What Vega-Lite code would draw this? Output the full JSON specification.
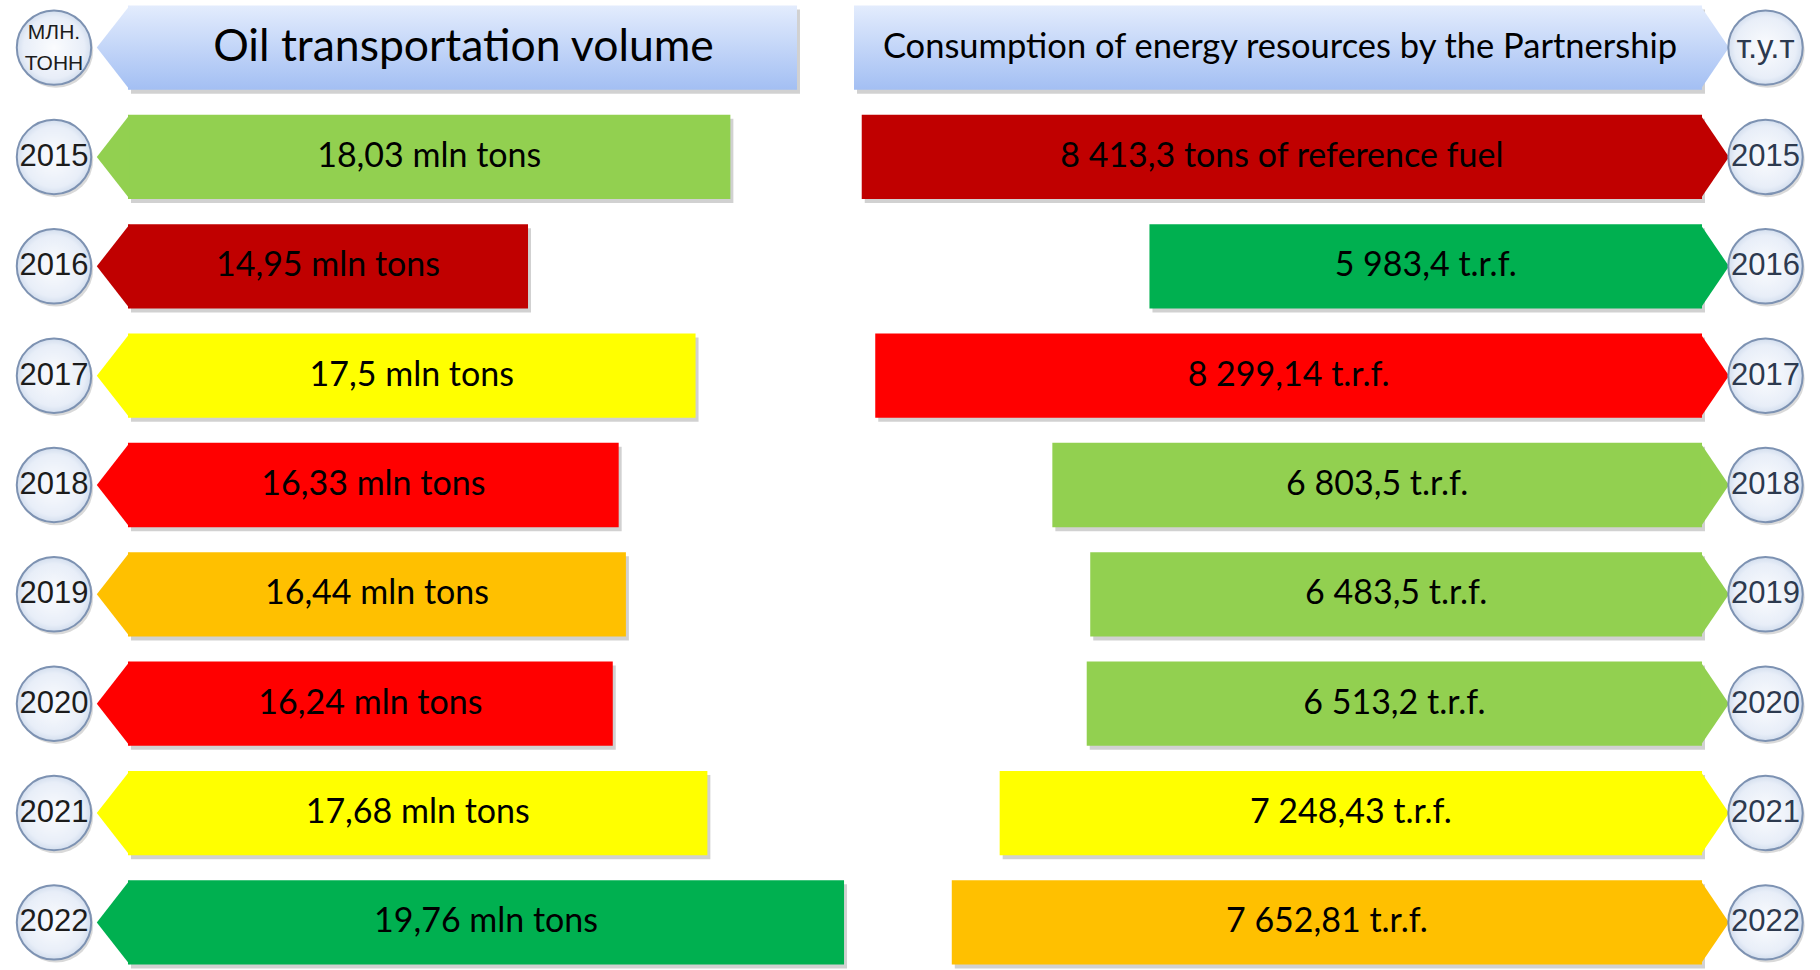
{
  "$schema": "https://vega.github.io/schema/vega-lite/v6.json",
  "width": 1820,
  "height": 970,
  "autosize": "none",
  "padding": 0,
  "background": "white",
  "config": {"view": {"stroke": null}},
  "datasets": {
    "years": [
      {"row": "2015", "oil": 18.03, "oil_label": "18,03 mln tons", "oil_grade": "good", "energy": 8413.3, "energy_label": "8 413,3 tons of reference fuel", "energy_grade": "worst"},
      {"row": "2016", "oil": 14.95, "oil_label": "14,95 mln tons", "oil_grade": "worst", "energy": 5983.4, "energy_label": "5 983,4 t.r.f.", "energy_grade": "excellent"},
      {"row": "2017", "oil": 17.5, "oil_label": "17,5 mln tons", "oil_grade": "average", "energy": 8299.14, "energy_label": "8 299,14 t.r.f.", "energy_grade": "poor"},
      {"row": "2018", "oil": 16.33, "oil_label": "16,33 mln tons", "oil_grade": "poor", "energy": 6803.5, "energy_label": "6 803,5 t.r.f.", "energy_grade": "good"},
      {"row": "2019", "oil": 16.44, "oil_label": "16,44 mln tons", "oil_grade": "fair", "energy": 6483.5, "energy_label": "6 483,5 t.r.f.", "energy_grade": "good"},
      {"row": "2020", "oil": 16.24, "oil_label": "16,24 mln tons", "oil_grade": "poor", "energy": 6513.2, "energy_label": "6 513,2 t.r.f.", "energy_grade": "good"},
      {"row": "2021", "oil": 17.68, "oil_label": "17,68 mln tons", "oil_grade": "average", "energy": 7248.43, "energy_label": "7 248,43 t.r.f.", "energy_grade": "average"},
      {"row": "2022", "oil": 19.76, "oil_label": "19,76 mln tons", "oil_grade": "excellent", "energy": 7652.81, "energy_label": "7 652,81 t.r.f.", "energy_grade": "fair"}
    ],
    "heads": [
      {"row": "unit", "oil_title": "Oil transportation volume", "oil_unit": "МЛН.\nТОНН", "energy_title": "Consumption of energy resources by the Partnership", "energy_unit": "т.у.т"}
    ]
  },
  "resolve": {"scale": {"x": "independent"}},
  "layer": [
    {
      "data": {"name": "heads"},
      "mark": {"type": "bar", "color": "#000000", "opacity": 0.18, "xOffset": 3, "x2Offset": 3, "yOffset": 4, "y2Offset": 4},
      "encoding": {
        "y": {"field": "row", "type": "nominal", "axis": null, "scale": {"type": "band", "domain": ["unit", "2015", "2016", "2017", "2018", "2019", "2020", "2021", "2022"], "paddingInner": 0.229, "paddingOuter": 0.05}},
        "x": {"datum": 8.8615, "type": "quantitative", "axis": null, "scale": {"domain": [6.91324, 34.6149], "nice": false, "zero": false}},
        "x2": {"datum": 19.0441}
      }
    },
    {
      "data": {"name": "years"},
      "mark": {"type": "bar", "color": "#000000", "opacity": 0.18, "xOffset": 3, "x2Offset": 3, "yOffset": 4, "y2Offset": 4},
      "encoding": {
        "y": {"field": "row", "type": "nominal", "axis": null, "scale": {"type": "band", "domain": ["unit", "2015", "2016", "2017", "2018", "2019", "2020", "2021", "2022"], "paddingInner": 0.229, "paddingOuter": 0.05}},
        "x": {"field": "oil", "type": "quantitative", "axis": null, "scale": {"domain": [6.91324, 34.6149], "nice": false, "zero": false}},
        "x2": {"datum": 8.8615}
      }
    },
    {
      "data": {"name": "heads"},
      "mark": {"type": "bar", "color": "#000000", "opacity": 0.18, "xOffset": 3, "x2Offset": 3, "yOffset": 4, "y2Offset": 4},
      "encoding": {
        "y": {"field": "row", "type": "nominal", "axis": null, "scale": {"type": "band", "domain": ["unit", "2015", "2016", "2017", "2018", "2019", "2020", "2021", "2022"], "paddingInner": 0.229, "paddingOuter": 0.05}},
        "x": {"datum": 8478.6, "type": "quantitative", "axis": null, "scale": {"domain": [320.5, 15690.8], "reverse": true, "nice": false, "zero": false}},
        "x2": {"datum": 1317.0}
      }
    },
    {
      "data": {"name": "years"},
      "mark": {"type": "bar", "color": "#000000", "opacity": 0.18, "xOffset": 3, "x2Offset": 3, "yOffset": 4, "y2Offset": 4},
      "encoding": {
        "y": {"field": "row", "type": "nominal", "axis": null, "scale": {"type": "band", "domain": ["unit", "2015", "2016", "2017", "2018", "2019", "2020", "2021", "2022"], "paddingInner": 0.229, "paddingOuter": 0.05}},
        "x": {"field": "energy", "type": "quantitative", "axis": null, "scale": {"domain": [320.5, 15690.8], "reverse": true, "nice": false, "zero": false}},
        "x2": {"datum": 1317.0}
      }
    },
    {
      "data": {"name": "heads"},
      "mark": {"type": "bar", "color": {"gradient": "linear", "x1": 0, "y1": 0, "x2": 0, "y2": 1, "stops": [{"offset": 0, "color": "#e3ecfd"}, {"offset": 1, "color": "#a3bff3"}]}},
      "encoding": {
        "y": {"field": "row", "type": "nominal", "axis": null, "scale": {"type": "band", "domain": ["unit", "2015", "2016", "2017", "2018", "2019", "2020", "2021", "2022"], "paddingInner": 0.229, "paddingOuter": 0.05}},
        "x": {"datum": 8.8615, "type": "quantitative", "axis": null, "scale": {"domain": [6.91324, 34.6149], "nice": false, "zero": false}},
        "x2": {"datum": 19.0441}
      }
    },
    {
      "data": {"name": "heads"},
      "mark": {"type": "point", "shape": "M 0.04 -1 L 0.04 1 L -0.74 0 Z", "size": 7108, "filled": true, "opacity": 1, "fill": {"gradient": "linear", "x1": 0, "y1": 0, "x2": 0, "y2": 1, "stops": [{"offset": 0, "color": "#e3ecfd"}, {"offset": 1, "color": "#a3bff3"}]}},
      "encoding": {
        "y": {"field": "row", "type": "nominal", "axis": null, "scale": {"type": "band", "domain": ["unit", "2015", "2016", "2017", "2018", "2019", "2020", "2021", "2022"], "paddingInner": 0.229, "paddingOuter": 0.05}},
        "x": {"datum": 8.8615, "type": "quantitative", "axis": null, "scale": {"domain": [6.91324, 34.6149], "nice": false, "zero": false}}
      }
    },
    {
      "data": {"name": "heads"},
      "mark": {"type": "bar", "color": {"gradient": "linear", "x1": 0, "y1": 0, "x2": 0, "y2": 1, "stops": [{"offset": 0, "color": "#e3ecfd"}, {"offset": 1, "color": "#a3bff3"}]}},
      "encoding": {
        "y": {"field": "row", "type": "nominal", "axis": null, "scale": {"type": "band", "domain": ["unit", "2015", "2016", "2017", "2018", "2019", "2020", "2021", "2022"], "paddingInner": 0.229, "paddingOuter": 0.05}},
        "x": {"datum": 8478.6, "type": "quantitative", "axis": null, "scale": {"domain": [320.5, 15690.8], "reverse": true, "nice": false, "zero": false}},
        "x2": {"datum": 1317.0}
      }
    },
    {
      "data": {"name": "heads"},
      "mark": {"type": "point", "shape": "M -0.04 -1 L -0.04 1 L 0.64 0 Z", "size": 7108, "filled": true, "opacity": 1, "fill": {"gradient": "linear", "x1": 0, "y1": 0, "x2": 0, "y2": 1, "stops": [{"offset": 0, "color": "#e3ecfd"}, {"offset": 1, "color": "#a3bff3"}]}},
      "encoding": {
        "y": {"field": "row", "type": "nominal", "axis": null, "scale": {"type": "band", "domain": ["unit", "2015", "2016", "2017", "2018", "2019", "2020", "2021", "2022"], "paddingInner": 0.229, "paddingOuter": 0.05}},
        "x": {"datum": 1317.0, "type": "quantitative", "axis": null, "scale": {"domain": [320.5, 15690.8], "reverse": true, "nice": false, "zero": false}}
      }
    },
    {
      "data": {"name": "years"},
      "mark": {"type": "bar"},
      "encoding": {
        "y": {"field": "row", "type": "nominal", "axis": null, "scale": {"type": "band", "domain": ["unit", "2015", "2016", "2017", "2018", "2019", "2020", "2021", "2022"], "paddingInner": 0.229, "paddingOuter": 0.05}},
        "x": {"field": "oil", "type": "quantitative", "axis": null, "scale": {"domain": [6.91324, 34.6149], "nice": false, "zero": false}},
        "x2": {"datum": 8.8615},
        "color": {"field": "oil_grade", "type": "nominal", "legend": null, "scale": {"domain": ["excellent", "good", "average", "fair", "poor", "worst"], "range": ["#00b050", "#92d050", "#ffff00", "#ffc000", "#ff0000", "#c00000"]}}
      }
    },
    {
      "data": {"name": "years"},
      "mark": {"type": "point", "shape": "M 0.04 -1 L 0.04 1 L -0.74 0 Z", "size": 7108, "filled": true, "opacity": 1},
      "encoding": {
        "y": {"field": "row", "type": "nominal", "axis": null, "scale": {"type": "band", "domain": ["unit", "2015", "2016", "2017", "2018", "2019", "2020", "2021", "2022"], "paddingInner": 0.229, "paddingOuter": 0.05}},
        "x": {"datum": 8.8615, "type": "quantitative", "axis": null, "scale": {"domain": [6.91324, 34.6149], "nice": false, "zero": false}},
        "color": {"field": "oil_grade", "type": "nominal", "legend": null, "scale": {"domain": ["excellent", "good", "average", "fair", "poor", "worst"], "range": ["#00b050", "#92d050", "#ffff00", "#ffc000", "#ff0000", "#c00000"]}}
      }
    },
    {
      "data": {"name": "years"},
      "mark": {"type": "bar"},
      "encoding": {
        "y": {"field": "row", "type": "nominal", "axis": null, "scale": {"type": "band", "domain": ["unit", "2015", "2016", "2017", "2018", "2019", "2020", "2021", "2022"], "paddingInner": 0.229, "paddingOuter": 0.05}},
        "x": {"field": "energy", "type": "quantitative", "axis": null, "scale": {"domain": [320.5, 15690.8], "reverse": true, "nice": false, "zero": false}},
        "x2": {"datum": 1317.0},
        "color": {"field": "energy_grade", "type": "nominal", "legend": null, "scale": {"domain": ["excellent", "good", "average", "fair", "poor", "worst"], "range": ["#00b050", "#92d050", "#ffff00", "#ffc000", "#ff0000", "#c00000"]}}
      }
    },
    {
      "data": {"name": "years"},
      "mark": {"type": "point", "shape": "M -0.04 -1 L -0.04 1 L 0.64 0 Z", "size": 7108, "filled": true, "opacity": 1},
      "encoding": {
        "y": {"field": "row", "type": "nominal", "axis": null, "scale": {"type": "band", "domain": ["unit", "2015", "2016", "2017", "2018", "2019", "2020", "2021", "2022"], "paddingInner": 0.229, "paddingOuter": 0.05}},
        "x": {"datum": 1317.0, "type": "quantitative", "axis": null, "scale": {"domain": [320.5, 15690.8], "reverse": true, "nice": false, "zero": false}},
        "color": {"field": "energy_grade", "type": "nominal", "legend": null, "scale": {"domain": ["excellent", "good", "average", "fair", "poor", "worst"], "range": ["#00b050", "#92d050", "#ffff00", "#ffc000", "#ff0000", "#c00000"]}}
      }
    },
    {
      "data": {"name": "heads"},
      "mark": {"type": "text", "font": "Lato", "fontSize": 44.5, "color": "#000000", "align": "center", "baseline": "middle"},
      "encoding": {
        "y": {"field": "row", "type": "nominal", "axis": null, "scale": {"type": "band", "domain": ["unit", "2015", "2016", "2017", "2018", "2019", "2020", "2021", "2022"], "paddingInner": 0.229, "paddingOuter": 0.05}},
        "x": {"datum": 13.968, "type": "quantitative", "axis": null, "scale": {"domain": [6.91324, 34.6149], "nice": false, "zero": false}},
        "text": {"field": "oil_title"}
      }
    },
    {
      "data": {"name": "heads"},
      "mark": {"type": "text", "font": "Lato", "fontSize": 34.5, "color": "#000000", "align": "center", "baseline": "middle"},
      "encoding": {
        "y": {"field": "row", "type": "nominal", "axis": null, "scale": {"type": "band", "domain": ["unit", "2015", "2016", "2017", "2018", "2019", "2020", "2021", "2022"], "paddingInner": 0.229, "paddingOuter": 0.05}},
        "x": {"datum": 4880.9, "type": "quantitative", "axis": null, "scale": {"domain": [320.5, 15690.8], "reverse": true, "nice": false, "zero": false}},
        "text": {"field": "energy_title"}
      }
    },
    {
      "data": {"name": "years"},
      "mark": {"type": "text", "font": "Lato", "fontSize": 34, "color": "#000000", "align": "center", "baseline": "middle"},
      "encoding": {
        "y": {"field": "row", "type": "nominal", "axis": null, "scale": {"type": "band", "domain": ["unit", "2015", "2016", "2017", "2018", "2019", "2020", "2021", "2022"], "paddingInner": 0.229, "paddingOuter": 0.05}},
        "x": {"field": "oil", "type": "quantitative", "axis": null, "scale": {"domain": [4.9650, 60.368], "nice": false, "zero": false}},
        "text": {"field": "oil_label"}
      }
    },
    {
      "data": {"name": "years"},
      "mark": {"type": "text", "font": "Lato", "fontSize": 34, "color": "#000000", "align": "center", "baseline": "middle"},
      "encoding": {
        "y": {"field": "row", "type": "nominal", "axis": null, "scale": {"type": "band", "domain": ["unit", "2015", "2016", "2017", "2018", "2019", "2020", "2021", "2022"], "paddingInner": 0.229, "paddingOuter": 0.05}},
        "x": {"field": "energy", "type": "quantitative", "axis": null, "scale": {"domain": [-676.0, 30064.6], "reverse": true, "nice": false, "zero": false}},
        "text": {"field": "energy_label"}
      }
    },
    {
      "data": {"name": "years"},
      "mark": {"type": "circle", "size": 5542, "color": "#000000", "opacity": 0.15, "xOffset": 2, "yOffset": 3},
      "encoding": {
        "y": {"field": "row", "type": "nominal", "axis": null, "scale": {"type": "band", "domain": ["unit", "2015", "2016", "2017", "2018", "2019", "2020", "2021", "2022"], "paddingInner": 0.229, "paddingOuter": 0.05}},
        "x": {"datum": 7.7352, "type": "quantitative", "axis": null, "scale": {"domain": [6.91324, 34.6149], "nice": false, "zero": false}}
      }
    },
    {
      "data": {"name": "heads"},
      "mark": {"type": "circle", "size": 5542, "color": "#000000", "opacity": 0.15, "xOffset": 2, "yOffset": 3},
      "encoding": {
        "y": {"field": "row", "type": "nominal", "axis": null, "scale": {"type": "band", "domain": ["unit", "2015", "2016", "2017", "2018", "2019", "2020", "2021", "2022"], "paddingInner": 0.229, "paddingOuter": 0.05}},
        "x": {"datum": 7.7352, "type": "quantitative", "axis": null, "scale": {"domain": [6.91324, 34.6149], "nice": false, "zero": false}}
      }
    },
    {
      "data": {"name": "years"},
      "mark": {"type": "circle", "size": 5542, "color": "#000000", "opacity": 0.15, "xOffset": 2, "yOffset": 3},
      "encoding": {
        "y": {"field": "row", "type": "nominal", "axis": null, "scale": {"type": "band", "domain": ["unit", "2015", "2016", "2017", "2018", "2019", "2020", "2021", "2022"], "paddingInner": 0.229, "paddingOuter": 0.05}},
        "x": {"datum": 780.8, "type": "quantitative", "axis": null, "scale": {"domain": [320.5, 15690.8], "reverse": true, "nice": false, "zero": false}}
      }
    },
    {
      "data": {"name": "heads"},
      "mark": {"type": "circle", "size": 5542, "color": "#000000", "opacity": 0.15, "xOffset": 2, "yOffset": 3},
      "encoding": {
        "y": {"field": "row", "type": "nominal", "axis": null, "scale": {"type": "band", "domain": ["unit", "2015", "2016", "2017", "2018", "2019", "2020", "2021", "2022"], "paddingInner": 0.229, "paddingOuter": 0.05}},
        "x": {"datum": 780.8, "type": "quantitative", "axis": null, "scale": {"domain": [320.5, 15690.8], "reverse": true, "nice": false, "zero": false}}
      }
    },
    {
      "data": {"name": "years"},
      "mark": {"type": "circle", "size": 5542, "opacity": 1, "strokeWidth": 2, "stroke": "#7d92b2", "fill": {"gradient": "radial", "x1": 0.5, "y1": 0.5, "r1": 0, "x2": 0.5, "y2": 0.5, "r2": 0.5, "stops": [{"offset": 0, "color": "#fbfcfe"}, {"offset": 0.82, "color": "#e8eef8"}, {"offset": 1, "color": "#d3deee"}]}},
      "encoding": {
        "y": {"field": "row", "type": "nominal", "axis": null, "scale": {"type": "band", "domain": ["unit", "2015", "2016", "2017", "2018", "2019", "2020", "2021", "2022"], "paddingInner": 0.229, "paddingOuter": 0.05}},
        "x": {"datum": 7.7352, "type": "quantitative", "axis": null, "scale": {"domain": [6.91324, 34.6149], "nice": false, "zero": false}}
      }
    },
    {
      "data": {"name": "heads"},
      "mark": {"type": "circle", "size": 5542, "opacity": 1, "strokeWidth": 2, "stroke": "#7d92b2", "fill": {"gradient": "radial", "x1": 0.5, "y1": 0.5, "r1": 0, "x2": 0.5, "y2": 0.5, "r2": 0.5, "stops": [{"offset": 0, "color": "#fbfcfe"}, {"offset": 0.82, "color": "#e8eef8"}, {"offset": 1, "color": "#d3deee"}]}},
      "encoding": {
        "y": {"field": "row", "type": "nominal", "axis": null, "scale": {"type": "band", "domain": ["unit", "2015", "2016", "2017", "2018", "2019", "2020", "2021", "2022"], "paddingInner": 0.229, "paddingOuter": 0.05}},
        "x": {"datum": 7.7352, "type": "quantitative", "axis": null, "scale": {"domain": [6.91324, 34.6149], "nice": false, "zero": false}}
      }
    },
    {
      "data": {"name": "years"},
      "mark": {"type": "circle", "size": 5542, "opacity": 1, "strokeWidth": 2, "stroke": "#7d92b2", "fill": {"gradient": "radial", "x1": 0.5, "y1": 0.5, "r1": 0, "x2": 0.5, "y2": 0.5, "r2": 0.5, "stops": [{"offset": 0, "color": "#fbfcfe"}, {"offset": 0.82, "color": "#e8eef8"}, {"offset": 1, "color": "#d3deee"}]}},
      "encoding": {
        "y": {"field": "row", "type": "nominal", "axis": null, "scale": {"type": "band", "domain": ["unit", "2015", "2016", "2017", "2018", "2019", "2020", "2021", "2022"], "paddingInner": 0.229, "paddingOuter": 0.05}},
        "x": {"datum": 780.8, "type": "quantitative", "axis": null, "scale": {"domain": [320.5, 15690.8], "reverse": true, "nice": false, "zero": false}}
      }
    },
    {
      "data": {"name": "heads"},
      "mark": {"type": "circle", "size": 5542, "opacity": 1, "strokeWidth": 2, "stroke": "#7d92b2", "fill": {"gradient": "radial", "x1": 0.5, "y1": 0.5, "r1": 0, "x2": 0.5, "y2": 0.5, "r2": 0.5, "stops": [{"offset": 0, "color": "#fbfcfe"}, {"offset": 0.82, "color": "#e8eef8"}, {"offset": 1, "color": "#d3deee"}]}},
      "encoding": {
        "y": {"field": "row", "type": "nominal", "axis": null, "scale": {"type": "band", "domain": ["unit", "2015", "2016", "2017", "2018", "2019", "2020", "2021", "2022"], "paddingInner": 0.229, "paddingOuter": 0.05}},
        "x": {"datum": 780.8, "type": "quantitative", "axis": null, "scale": {"domain": [320.5, 15690.8], "reverse": true, "nice": false, "zero": false}}
      }
    },
    {
      "data": {"name": "years"},
      "mark": {"type": "text", "font": "Liberation Sans", "fontSize": 31, "color": "#1c1c1c", "align": "center", "baseline": "middle"},
      "encoding": {
        "y": {"field": "row", "type": "nominal", "axis": null, "scale": {"type": "band", "domain": ["unit", "2015", "2016", "2017", "2018", "2019", "2020", "2021", "2022"], "paddingInner": 0.229, "paddingOuter": 0.05}},
        "x": {"datum": 7.7352, "type": "quantitative", "axis": null, "scale": {"domain": [6.91324, 34.6149], "nice": false, "zero": false}},
        "text": {"field": "row"}
      }
    },
    {
      "data": {"name": "heads"},
      "mark": {"type": "text", "font": "Liberation Sans", "fontSize": 21, "lineHeight": 31, "lineBreak": "\n", "dy": -15, "color": "#1c1c1c", "align": "center", "baseline": "middle"},
      "encoding": {
        "y": {"field": "row", "type": "nominal", "axis": null, "scale": {"type": "band", "domain": ["unit", "2015", "2016", "2017", "2018", "2019", "2020", "2021", "2022"], "paddingInner": 0.229, "paddingOuter": 0.05}},
        "x": {"datum": 7.7352, "type": "quantitative", "axis": null, "scale": {"domain": [6.91324, 34.6149], "nice": false, "zero": false}},
        "text": {"field": "oil_unit"}
      }
    },
    {
      "data": {"name": "years"},
      "mark": {"type": "text", "font": "Liberation Sans", "fontSize": 31, "color": "#2d3a4f", "align": "center", "baseline": "middle"},
      "encoding": {
        "y": {"field": "row", "type": "nominal", "axis": null, "scale": {"type": "band", "domain": ["unit", "2015", "2016", "2017", "2018", "2019", "2020", "2021", "2022"], "paddingInner": 0.229, "paddingOuter": 0.05}},
        "x": {"datum": 780.8, "type": "quantitative", "axis": null, "scale": {"domain": [320.5, 15690.8], "reverse": true, "nice": false, "zero": false}},
        "text": {"field": "row"}
      }
    },
    {
      "data": {"name": "heads"},
      "mark": {"type": "text", "font": "Liberation Sans", "fontSize": 33, "color": "#2d3a4f", "align": "center", "baseline": "middle"},
      "encoding": {
        "y": {"field": "row", "type": "nominal", "axis": null, "scale": {"type": "band", "domain": ["unit", "2015", "2016", "2017", "2018", "2019", "2020", "2021", "2022"], "paddingInner": 0.229, "paddingOuter": 0.05}},
        "x": {"datum": 780.8, "type": "quantitative", "axis": null, "scale": {"domain": [320.5, 15690.8], "reverse": true, "nice": false, "zero": false}},
        "text": {"field": "energy_unit"}
      }
    }
  ]
}
